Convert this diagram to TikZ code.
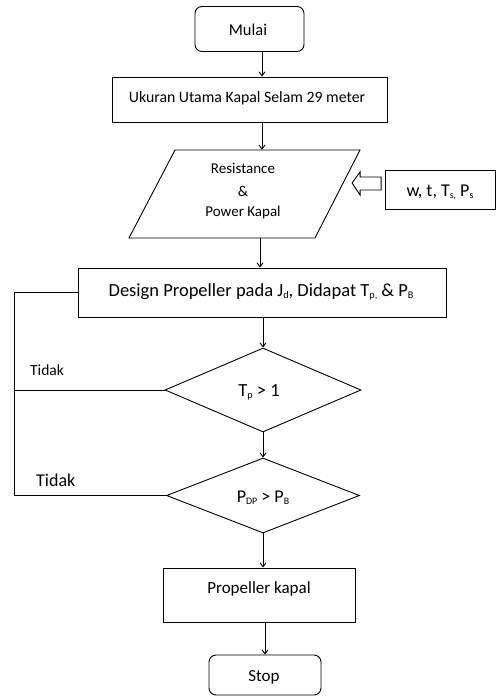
\documentclass[tikz,border=0pt]{standalone}
\usepackage{fontspec}
\setmainfont{Carlito}
\usetikzlibrary{arrows.meta,shapes.geometric,calc}
\newcommand{\sbs}[1]{\raisebox{-0.25ex}{\scalebox{0.55}{#1}}}
\begin{document}
\begin{tikzpicture}[x=1pt,y=-1pt,
  box/.style={draw,line width=0.9pt,inner sep=0pt},
  term/.style={box,rounded corners=7pt},
  dia/.style={draw,line width=0.9pt,diamond,inner sep=0pt},
  arr/.style={line width=0.9pt,-{Straight Barb[length=4pt,width=6pt]}},
  ln/.style={line width=0.9pt}]
\useasboundingbox (0,0) rectangle (496,698);
\fill[white] (0,0) rectangle (496,698);
% nodes
\node[term,minimum width=109pt,minimum height=45pt] (mulai) at (249.5,29) {};
\node[font=\fontsize{16.5}{18}\selectfont] (tmulai) at (248,30) {Mulai};
\node[box,minimum width=275pt,minimum height=45pt] (ukuran) at (249.5,99.5) {};
\node[font=\fontsize{15.8}{17}\selectfont] (tukuran) at (247,98) {Ukuran Utama Kapal Selam 29 meter};
% parallelogram
\coordinate (p1) at (175,150);
\coordinate (p2) at (360,150);
\coordinate (p3) at (315,238);
\coordinate (p4) at (129,238);
\draw[ln] (p1) -- (p2) -- (p3) -- (p4) -- cycle;
\node[minimum width=186pt,minimum height=88pt,inner sep=0pt] (res) at (244.5,194) {};
\node[font=\fontsize{15}{17}\selectfont] (tres1) at (243,168) {Resistance};
\node[font=\fontsize{15}{17}\selectfont] (tres2) at (243,191) {\&};
\node[font=\fontsize{15}{17}\selectfont] (tres3) at (243,212) {Power Kapal};
% input box
\node[box,minimum width=110pt,minimum height=39pt] (inp) at (440.5,189.5) {};
\node[font=\fontsize{18}{20}\selectfont] (tinp) at (440,192) {w, t, T\sbs{s,} P\sbs{s}};
% hollow arrow
\draw[line width=0.9pt,fill=white] ($(inp.west)+(-4,-12.5)$) -- ++(-21,0) -- ++(0,-5) -- ++(-8,11) -- ++(8,12) -- ++(0,-5) -- ++(21,0) -- cycle;
% design box
\node[box,minimum width=368pt,minimum height=49pt] (design) at (262,292.5) {};
\node[font=\fontsize{18.5}{20}\selectfont] (tdesign) at (261,292) {Design Propeller pada J\sbs{d}, Didapat T\sbs{p,} \& P\sbs{B}};
% diamonds
\node[dia,minimum width=196pt,minimum height=84pt] (d1) at (263,390) {};
\node[font=\fontsize{18.5}{20}\selectfont] (td1) at (259,392) {T\sbs{p} > 1};
\node[dia,minimum width=193pt,minimum height=75pt] (d2) at (263,495.5) {};
\node[font=\fontsize{18}{20}\selectfont] (td2) at (263,498) {P\sbs{DP} > P\sbs{B}};
% propeller box
\node[box,minimum width=192pt,minimum height=54pt] (prop) at (259,595) {};
\node[font=\fontsize{17}{19}\selectfont] (tprop) at (259,589) {Propeller kapal};
\node[term,minimum width=112pt,minimum height=40pt] (stop) at (265,675) {};
\node[font=\fontsize{17}{19}\selectfont] (tstop) at (264,677) {Stop};
% labels
\node[font=\fontsize{15.5}{17}\selectfont,anchor=west,inner sep=0pt] (tid1) at (30,370) {Tidak};
\node[font=\fontsize{18}{20}\selectfont,anchor=west,inner sep=0pt] (tid2) at (36,480) {Tidak};
% arrow columns
\coordinate (c1) at (262,0);
\coordinate (c2) at (260,0);
\coordinate (c3) at (263,0);
\coordinate (c5) at (265,0);
\draw[arr] (mulai.south -| c1) -- (ukuran.north -| c1);
\draw[arr] (ukuran.south -| c1) -- (res.north -| c1);
\draw[arr] (res.south -| c2) -- (design.north -| c2);
\draw[arr] (design.south -| c3) -- (d1.north);
\draw[arr] (d1.south) -- (d2.north);
\draw[arr] (d2.south) -- (prop.north -| d2.south);
\draw[arr] (prop.south -| c5) -- (stop.north -| c5);
% feedback lines
\coordinate (lx) at (14,0);
\draw[ln] (design.west) -- (design.west -| lx) -- (d2.west -| lx) -- (d2.west);
\draw[ln] (d1.west) -- (d1.west -| lx);
\end{tikzpicture}
\end{document}
